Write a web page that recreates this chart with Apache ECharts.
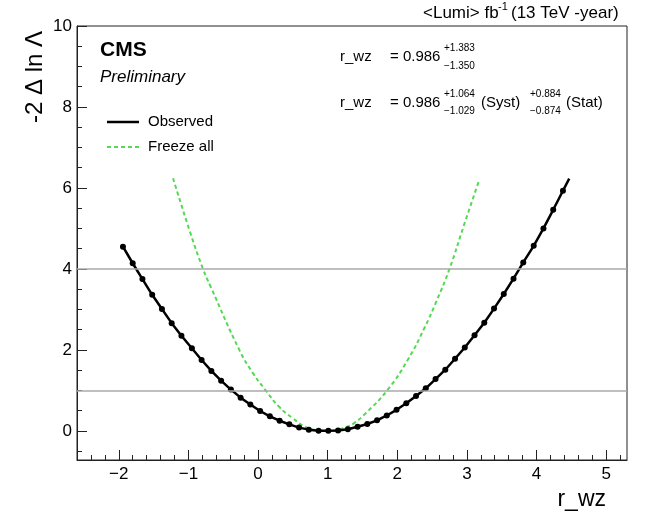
<!DOCTYPE html>
<html>
<head>
<meta charset="utf-8">
<script src="https://cdn.jsdelivr.net/npm/echarts@6/dist/echarts.min.js"></script>
<style>
  html, body { margin: 0; padding: 0; background: #fff; }
  #main { width: 650px; height: 521px; }
</style>
</head>
<body>
<div id="main"></div>
<script>
// scan points
var obsX = [-1.94, -1.80, -1.66, -1.52, -1.38, -1.24, -1.10, -0.95, -0.81, -0.67,
            -0.53, -0.39, -0.25, -0.11, 0.03, 0.17, 0.31, 0.45, 0.59, 0.73,
            0.87, 1.01, 1.15, 1.29, 1.43, 1.57, 1.71, 1.85, 1.99, 2.13,
            2.27, 2.41, 2.55, 2.69, 2.83, 2.97, 3.11, 3.25, 3.39, 3.53,
            3.67, 3.81, 3.96, 4.10, 4.24, 4.38];
var obsY = [4.55, 4.14, 3.75, 3.36, 3.01, 2.66, 2.35, 2.04, 1.75, 1.48,
            1.24, 1.02, 0.82, 0.65, 0.49, 0.36, 0.25, 0.16, 0.08, 0.03,
            0.005, 0.0, 0.01, 0.04, 0.10, 0.17, 0.26, 0.38, 0.52, 0.68,
            0.86, 1.05, 1.28, 1.51, 1.78, 2.06, 2.36, 2.67, 3.02, 3.38,
            3.76, 4.16, 4.57, 5.00, 5.46, 5.93];
var obsEnd = [4.47, 6.23]; // line keeps going past the last marker

var frzX = [-1.22, -0.97, -0.79, -0.68, -0.26, -0.07, 0.11, 0.30, 0.50, 0.69,
            0.88, 1.00, 1.14, 1.29, 1.38, 1.55, 1.86, 2.15, 2.39, 2.56,
            2.75, 2.96, 3.18];
var frzY = [6.24, 4.88, 4.00, 3.56, 1.97, 1.42, 1.00, 0.60, 0.31, 0.09,
            0.01, 0.0, 0.025, 0.11, 0.19, 0.44, 1.01, 1.75, 2.54, 3.19,
            4.00, 5.09, 6.21];

var xTicks = [-2, -1, 0, 1, 2, 3, 4, 5];
var yTicks = [0, 2, 4, 6, 8, 10];
var refLevels = [1, 4];

var xMin = -2.6, xMax = 5.3;
var yMin = -0.72, yMax = 10;

// minor tick positions
var xMinor = [];
for (var i = 0; i <= 39; i++) xMinor.push(+(xMin + 0.2 * i).toFixed(2));
var yMinor = [];
for (var j = -1; j <= 20; j++) yMinor.push(j * 0.5);

var FONT = '"Liberation Sans", Arial, sans-serif';

var obsData = obsX.map(function (x, i) { return [x, obsY[i]]; });
obsData.push({ value: obsEnd, symbol: 'none' });
var frzData = frzX.map(function (x, i) { return [x, frzY[i]]; });

var myChart = echarts.init(document.getElementById('main'));

var axisLine = { show: true, onZero: false, lineStyle: { color: '#222', width: 1 } };

function txt(left, top, text, font) {
    return { type: 'text', left: left, top: top,
             style: { text: text, font: font + ' ' + FONT, fill: '#000' } };
}

var option = {
    animation: false,
    backgroundColor: '#fff',
    grid: {
        left: 77, right: 23, top: 26, bottom: 61,
        show: true, borderColor: '#222', borderWidth: 1
    },
    xAxis: [{
        type: 'value', min: xMin, max: xMax, position: 'bottom',
        axisLine: axisLine,
        splitLine: { show: false },
        axisTick: { show: true, inside: true, length: 10, customValues: xTicks,
                    lineStyle: { color: '#222' } },
        axisLabel: { show: true, customValues: xTicks, margin: 6,
                     color: '#000', fontSize: 17, fontFamily: FONT,
                     formatter: function (v) { return v < 0 ? '\u2212' + Math.abs(v) : String(v); } }
    }, {
        type: 'value', min: xMin, max: xMax, position: 'bottom',
        axisLine: { show: false, onZero: false },
        splitLine: { show: false },
        axisTick: { show: true, inside: true, length: 5, customValues: xMinor,
                    lineStyle: { color: '#222' } },
        axisLabel: { show: false }
    }],
    yAxis: [{
        type: 'value', min: yMin, max: yMax, position: 'left',
        axisLine: axisLine,
        splitLine: { show: false },
        axisTick: { show: true, inside: true, length: 10, customValues: yTicks,
                    lineStyle: { color: '#222' } },
        axisLabel: { show: true, customValues: yTicks, margin: 5,
                     color: '#000', fontSize: 17, fontFamily: FONT }
    }, {
        type: 'value', min: yMin, max: yMax, position: 'left',
        axisLine: { show: false, onZero: false },
        splitLine: { show: false },
        axisTick: { show: true, inside: true, length: 5, customValues: yMinor,
                    lineStyle: { color: '#222' } },
        axisLabel: { show: false }
    }],
    series: [{
        name: 'Freeze all',
        type: 'line',
        data: frzData,
        smooth: true,
        symbol: 'none',
        lineStyle: { color: '#55d955', width: 2, type: [4, 3] },
        z: 3,
        markLine: {
            silent: true,
            symbol: 'none',
            label: { show: false },
            lineStyle: { color: '#aaaaaa', width: 1.5, type: 'solid' },
            data: refLevels.map(function (v) { return { yAxis: v }; })
        }
    }, {
        name: 'Observed',
        type: 'line',
        data: obsData,
        symbol: 'circle',
        symbolSize: 6,
        showAllSymbol: true,
        itemStyle: { color: '#000' },
        lineStyle: { color: '#000', width: 2.5 },
        z: 4
    }],
    graphic: [
        // "<Lumi> fb^-1 (13 TeV -year)"
        txt(423, 5, '<Lumi> fb', '17px'),
        txt(498, 1, '-1', '11px'),
        txt(511, 5, '(13 TeV -year)', '17px'),

        txt(100, 40, 'CMS', 'bold 21px'),
        txt(100, 69, 'Preliminary', 'italic 17px'),

        // legend
        { type: 'line', shape: { x1: 107, y1: 122, x2: 139, y2: 122 },
          style: { stroke: '#000', lineWidth: 2.5 } },
        txt(148, 114, 'Observed', '15px'),
        { type: 'line', shape: { x1: 107, y1: 147, x2: 139, y2: 147 },
          style: { stroke: '#55d955', lineWidth: 2, lineDash: [4, 3] } },
        txt(148, 139, 'Freeze all', '15px'),

        // result lines
        txt(340, 49, 'r_wz', '15px'),
        txt(390, 49, '= 0.986', '15px'),
        txt(444, 43, '+1.383', '10px'),
        txt(444, 61, '\u22121.350', '10px'),

        txt(340, 95, 'r_wz', '15px'),
        txt(390, 95, '= 0.986', '15px'),
        txt(444, 89, '+1.064', '10px'),
        txt(444, 106, '\u22121.029', '10px'),
        txt(481, 95, '(Syst)', '15px'),
        txt(530, 89, '+0.884', '10px'),
        txt(530, 106, '\u22120.874', '10px'),
        txt(566, 95, '(Stat)', '15px'),

        // axis titles
        { type: 'text', x: 35, y: 77, rotation: Math.PI / 2,
          style: { text: '-2 \u0394 ln \u039B', font: '24px ' + FONT, fill: '#000',
                   align: 'center', verticalAlign: 'middle' } },
        { type: 'text', right: 44, top: 488,
          style: { text: 'r_wz', font: '23px ' + FONT, fill: '#000' } }
    ]
};

myChart.setOption(option);
</script>
</body>
</html>
